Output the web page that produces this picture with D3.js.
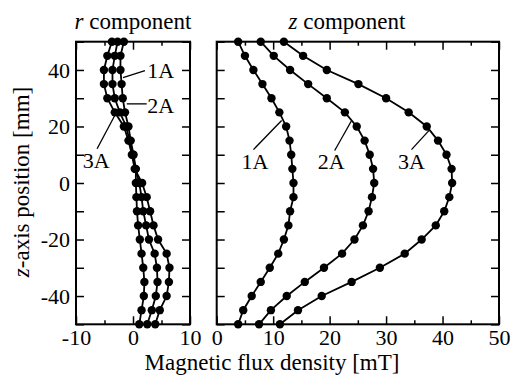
<!DOCTYPE html>
<html>
<head>
<meta charset="utf-8">
<script src="https://cdn.jsdelivr.net/npm/d3@7"></script>
<style>
  body { margin: 0; background: #fff; }
</style>
</head>
<body>
<svg id="chart" width="513" height="376"></svg>
<script>
// z-axis positions [mm], top to bottom
const zPos = [50, 45, 40, 35, 30, 25, 20, 15, 10, 5, 0, -5, -10, -15, -20, -25, -30, -35, -40, -45, -50];
const currents = ["1A", "2A", "3A"];

// r component [mT]
const rComp1A = [-1.6, -2.2, -2.2, -2.0, -1.8, -1.4, -0.8, -0.4, 0.1, 0.5, 0.5, 0.6, 0.7, 0.9, 1.2, 1.5, 1.8, 2.0, 1.9, 1.5, 1.1];
const rComp2A = [-2.7, -3.2, -3.6, -3.6, -3.2, -2.3, -1.2, -0.6, 0.0, 0.4, 1.1, 1.5, 1.8, 2.3, 2.8, 3.8, 4.2, 4.3, 4.0, 3.3, 2.5];
const rComp3A = [-3.7, -4.5, -5.1, -5.1, -4.5, -3.2, -1.6, -0.8, -0.2, 0.3, 1.6, 2.4, 3.0, 3.6, 4.4, 5.9, 6.4, 6.3, 5.9, 4.7, 3.9];

// z component [mT]
const zComp1A = [3.8, 5.0, 6.5, 8.1, 9.7, 11.1, 12.3, 12.9, 13.2, 13.4, 13.6, 13.6, 13.0, 12.7, 11.9, 10.9, 9.4, 7.8, 6.2, 4.7, 3.8];
const zComp2A = [7.8, 10.1, 13.0, 16.2, 19.5, 22.7, 24.8, 26.2, 27.1, 27.7, 27.9, 27.5, 26.9, 25.9, 24.4, 22.2, 19.0, 15.6, 12.4, 9.6, 7.5];
const zComp3A = [11.9, 15.3, 19.5, 25.1, 30.0, 34.0, 37.2, 39.2, 40.7, 41.6, 41.7, 41.2, 40.3, 38.8, 36.3, 33.3, 28.9, 23.9, 18.6, 14.4, 11.2];

// tick values
const yTickVals = [-50, -40, -30, -20, -10, 0, 10, 20, 30, 40, 50];
const yLabelVals = [-40, -20, 0, 20, 40];
const rMajor = [-10, 0, 10], rMinor = [-5, 5];
const zMajor = [0, 10, 20, 30, 40, 50], zMinor = [5, 15, 25, 35, 45];

// curve labels: text anchor point and leader line, in data units
const rNotes = [
  { id: "1A", tx: 2.5, ty: 37.3, x1: -1.75, y1: 37.3, x2: 2.1, y2: 39.8 },
  { id: "2A", tx: 2.5, ty: 24.6, x1: -1.1, y1: 28, x2: 2.4, y2: 28 },
  { id: "3A", tx: -8.8, ty: 5.2, x1: -6.3, y1: 12.1, x2: -3.2, y2: 23.9 }
];
const zNotes = [
  { id: "1A", tx: 4.4, ty: 4.8, x1: 6.5, y1: 11.8, x2: 11.5, y2: 22.1 },
  { id: "2A", tx: 17.9, ty: 4.8, x1: 20.9, y1: 11.5, x2: 23.9, y2: 22.1 },
  { id: "3A", tx: 32.1, ty: 4.8, x1: 34.5, y1: 11.8, x2: 37.7, y2: 18.8 }
];

const fontFam = '"Liberation Serif"';
const svg = d3.select("#chart");
const plotTop = 41.7, plotBottom = 324.3;
const y = d3.scaleLinear().domain([-50, 50]).range([plotBottom, plotTop]);

function panel(opts) {
  const x = d3.scaleLinear().domain(opts.domain).range(opts.range);
  const g = svg.append("g");
  const left = opts.range[0], right = opts.range[1];

  // y ticks inside, both sides
  g.append("g").attr("transform", `translate(${left},0)`)
    .call(d3.axisLeft(y).tickValues(yTickVals).tickSize(-8).tickPadding(6)
      .tickFormat(d => opts.yLabels && yLabelVals.includes(d) ? String(d) : ""));
  g.append("g").attr("transform", `translate(${right},0)`)
    .call(d3.axisRight(y).tickValues(yTickVals).tickSize(-8).tickFormat(""));

  // x ticks, bottom with labels, top without
  g.append("g").attr("transform", `translate(0,${plotBottom})`)
    .call(d3.axisBottom(x).tickValues(opts.major).tickSize(-8).tickPadding(5).tickFormat(d => String(d)));
  g.append("g").attr("transform", `translate(0,${plotBottom})`)
    .call(d3.axisBottom(x).tickValues(opts.minor).tickSize(-4).tickFormat(""));
  g.append("g").attr("transform", `translate(0,${plotTop})`)
    .call(d3.axisTop(x).tickValues(opts.major).tickSize(-8).tickFormat(""));
  g.append("g").attr("transform", `translate(0,${plotTop})`)
    .call(d3.axisTop(x).tickValues(opts.minor).tickSize(-4).tickFormat(""));

  g.selectAll(".domain").remove();
  g.selectAll(".tick line").attr("stroke", "#000").attr("stroke-width", 1.5);
  g.selectAll(".tick text").style("font-size", "22px").style("font-family", fontFam).attr("fill", "#000");

  g.append("rect")
    .attr("x", left).attr("y", plotTop)
    .attr("width", right - left).attr("height", plotBottom - plotTop)
    .attr("fill", "none").attr("stroke", "#000").attr("stroke-width", 2);

  const line = d3.line().x(d => x(d[0])).y(d => y(d[1]));
  opts.series.forEach(vals => {
    const pts = vals.map((v, i) => [v, zPos[i]]);
    g.append("path").datum(pts)
      .attr("d", line).attr("fill", "none")
      .attr("stroke", "#000").attr("stroke-width", 1.8);
    g.selectAll(null).data(pts).enter().append("circle")
      .attr("cx", d => x(d[0])).attr("cy", d => y(d[1]))
      .attr("r", 4.2).attr("fill", "#000");
  });

  opts.notes.forEach(n => {
    g.append("line")
      .attr("x1", x(n.x1)).attr("y1", y(n.y1))
      .attr("x2", x(n.x2)).attr("y2", y(n.y2))
      .attr("stroke", "#000").attr("stroke-width", 1.3);
    g.append("text")
      .attr("x", x(n.tx)).attr("y", y(n.ty))
      .style("font-size", "22px").style("font-family", fontFam)
      .text(n.id);
  });

  const title = svg.append("text")
    .attr("x", opts.titleX).attr("y", 29)
    .attr("text-anchor", "middle")
    .style("font-size", "23px").style("font-family", fontFam);
  title.append("tspan").style("font-style", "italic").text(opts.titleVar);
  title.append("tspan").text(" component");
}

panel({
  domain: [-10, 10], range: [76, 190], major: rMajor, minor: rMinor,
  series: [rComp1A, rComp2A, rComp3A], notes: rNotes, yLabels: true,
  titleX: 133, titleVar: "r"
});
panel({
  domain: [0, 50], range: [216.7, 499], major: zMajor, minor: zMinor,
  series: [zComp1A, zComp2A, zComp3A], notes: zNotes, yLabels: false,
  titleX: 347, titleVar: "z"
});

// axis titles
svg.append("text")
  .attr("x", 272).attr("y", 370)
  .attr("text-anchor", "middle")
  .style("font-size", "23px").style("font-family", fontFam)
  .text("Magnetic flux density [mT]");

const yt = svg.append("text")
  .attr("transform", "translate(29,182) rotate(-90)")
  .attr("text-anchor", "middle")
  .style("font-size", "23px").style("font-family", fontFam);
yt.append("tspan").style("font-style", "italic").text("z");
yt.append("tspan").text("-axis position [mm]");
</script>
</body>
</html>
